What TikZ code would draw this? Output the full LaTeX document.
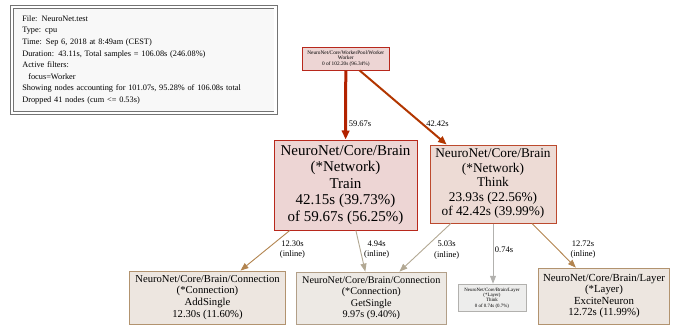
\documentclass[tikz,border=0pt]{standalone}
\usepackage{fontspec}
\setmainfont{Liberation Serif}
\usetikzlibrary{arrows.meta}
\definecolor{legfill}{HTML}{F8F8F8}
\definecolor{hotdraw}{HTML}{B8281C}
\definecolor{hotfill}{HTML}{EDD5D4}
\definecolor{warmdraw}{HTML}{BC4A2E}
\definecolor{warmfill}{HTML}{EDDBD5}
\definecolor{adddraw}{HTML}{B2936F}
\definecolor{addfill}{HTML}{EDE6E0}
\definecolor{getdraw}{HTML}{B29F88}
\definecolor{getfill}{HTML}{EDE9E4}
\definecolor{lowdraw}{HTML}{B2B1AE}
\definecolor{lowfill}{HTML}{EDEDEC}
\definecolor{ehot}{HTML}{B22200}
\definecolor{ewarm}{HTML}{B23600}
\definecolor{etan}{HTML}{B2844F}
\definecolor{elight}{HTML}{B2A893}
\definecolor{egray}{HTML}{B2B1AE}
\tikzset{legendbox/.style={draw=black!55, double=white, double distance=2.6pt, line width=0.7pt, fill=legfill, inner xsep=10.3pt, inner ysep=0pt, text width=243pt, minimum height=106pt, align=left, font=\fontsize{8.3}{11.6}\selectfont}}
\tikzset{fnode/.style={draw, inner sep=0pt, align=center, line width=0.8pt}}
\tikzset{fsize/.style args={#1/#2}{font=\fontsize{#1}{#2}\selectfont}}
\tikzset{earr/.style={draw, -{Triangle[length=8pt, width=6pt]}, line width=0.9pt}}
\tikzset{elab/.style={inner sep=0pt, align=center, font=\fontsize{8.5}{10.5}\selectfont}}

\begin{document}
\begin{tikzpicture}[x=1pt, y=-1pt]
	\useasboundingbox (0,0) rectangle (674,327);
	% legend
	\node[legendbox] (legend) at (143.8,60) {File: NeuroNet.test\\
		Type: cpu\\
		Time: Sep 6, 2018 at 8:49am (CEST)\\
		Duration: 43.11s, Total samples = 106.08s (246.08\%)\\
		Active filters:\\
		\hspace*{6pt}focus=Worker\\
		Showing nodes accounting for 101.07s, 95.28\% of 106.08s total\\
		Dropped 41 nodes (cum <= 0.53s)};
	% call graph
	\node[fnode, fsize=5.3/5.5, draw=hotdraw, fill=hotfill, minimum width=86.3pt, minimum height=22.7pt] (worker) at (345.8,58.7)
		{NeuroNet/Core/WorkerPool/Worker\\Worker\\0 of 102.20s (96.34\%)};
	\node[fnode, fsize=15/16.5, draw=hotdraw, fill=hotfill, line width=1pt, minimum width=143pt, minimum height=90pt] (train) at (345.5,185)
		{NeuroNet/Core/Brain\\(*Network)\\Train\\42.15s (39.73\%)\\of 59.67s (56.25\%)};
	\node[fnode, fsize=13.3/14.5, draw=warmdraw, fill=warmfill, line width=1pt, minimum width=126pt, minimum height=78pt] (think) at (493,184)
		{NeuroNet/Core/Brain\\(*Network)\\Think\\23.93s (22.56\%)\\of 42.42s (39.99\%)};
	\node[fnode, fsize=10.65/11.9, draw=adddraw, fill=addfill, minimum width=156.4pt, minimum height=53pt] (addsingle) at (207.5,297.5)
		{NeuroNet/Core/Brain/Connection\\(*Connection)\\AddSingle\\12.30s (11.60\%)};
	\node[fnode, fsize=10.2/11.5, draw=getdraw, fill=getfill, minimum width=149.3pt, minimum height=52pt] (getsingle) at (371.3,298)
		{NeuroNet/Core/Brain/Connection\\(*Connection)\\GetSingle\\9.97s (9.40\%)};
	\node[fnode, fsize=4.9/5.3, draw=lowdraw, fill=lowfill, minimum width=68pt, minimum height=27.7pt] (layerthink) at (492,298)
		{NeuroNet/Core/Brain/Layer\\(*Layer)\\Think\\0 of 0.74s (0.7\%)};
	\node[fnode, fsize=10.8/11.6, draw=adddraw, fill=addfill, minimum width=131.7pt, minimum height=56pt] (excite) at (604,296)
		{NeuroNet/Core/Brain/Layer\\(*Layer)\\ExciteNeuron\\12.72s (11.99\%)};
	% edges
	\draw[earr, draw=ehot, line width=3pt, -{Triangle[length=9pt, width=7.5pt]}, ehot] (worker) -- (train);
	\node[elab] (l59) at (360,124) {59.67s};
	\draw[earr, draw=ewarm, line width=2pt, -{Triangle[length=8.5pt, width=7pt]}, ewarm] (worker) -- (think);
	\node[elab] (l42) at (437.5,124) {42.42s};
	\draw[earr, draw=etan, etan] (train) -- (addsingle);
	\node[elab] (l12) at (292.5,249.7) {12.30s\\(inline)};
	\draw[earr, draw=elight, elight] (train) -- (getsingle);
	\node[elab] (l4) at (376.7,249.7) {4.94s\\(inline)};
	\draw[earr, draw=elight, elight] (think) -- (getsingle);
	\node[elab] (l5) at (446.7,250) {5.03s\\(inline)};
	\draw[earr, draw=egray, egray] (think.south) -- (think.south |- layerthink.north);
	\node[elab] (l07) at (504,249.3) {0.74s};
	\draw[earr, draw=etan, etan] (think) -- (excite);
	\node[elab] (l127) at (583,249.7) {12.72s\\(inline)};
\end{tikzpicture}
\end{document}
